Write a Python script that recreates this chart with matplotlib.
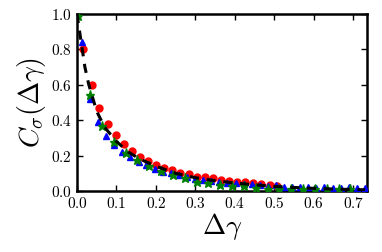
import matplotlib
matplotlib.use('Agg')
import matplotlib.pyplot as plt

plt.rcParams['font.family'] = 'serif'
plt.rcParams['font.serif'] = ['cmr10']
plt.rcParams['mathtext.fontset'] = 'cm'
plt.rcParams['axes.formatter.use_mathtext'] = True

# red circles
red_x = [0.015, 0.037, 0.057, 0.079, 0.100, 0.120, 0.140, 0.160, 0.180, 0.201,
         0.221, 0.242, 0.262, 0.283, 0.303, 0.324, 0.344, 0.365, 0.385, 0.406,
         0.426, 0.447, 0.467, 0.488, 0.508]
red_y = [0.80, 0.60, 0.47, 0.377, 0.315, 0.265, 0.227, 0.193, 0.171, 0.146,
         0.128, 0.118, 0.103, 0.096, 0.081, 0.077, 0.071, 0.062, 0.058, 0.053,
         0.050, 0.045, 0.040, 0.035, 0.030]

# blue triangles
blue_x = [0.012, 0.033, 0.053, 0.074, 0.094, 0.115, 0.135, 0.156, 0.176, 0.197,
          0.217, 0.238, 0.258, 0.279, 0.299, 0.320, 0.340, 0.361, 0.381, 0.402,
          0.422, 0.443, 0.463, 0.484, 0.504, 0.525, 0.545, 0.566, 0.586, 0.607,
          0.627, 0.648, 0.668, 0.689, 0.709, 0.730]
blue_y = [0.84, 0.52, 0.39, 0.31, 0.26, 0.22, 0.19, 0.165, 0.145, 0.125,
          0.11, 0.10, 0.088, 0.078, 0.068, 0.060, 0.055, 0.050, 0.048, 0.045,
          0.040, 0.042, 0.035, 0.030, 0.035, 0.025, 0.022, 0.025, 0.020, 0.018,
          0.020, 0.015, 0.018, 0.020, 0.015, 0.018]

# green stars
green_x = [0.003, 0.033, 0.063, 0.093, 0.123, 0.153, 0.183, 0.213, 0.243, 0.273,
           0.303, 0.333, 0.363, 0.393, 0.423, 0.453, 0.483, 0.513, 0.543, 0.573,
           0.603, 0.633, 0.663, 0.693]
green_y = [0.99, 0.54, 0.37, 0.278, 0.216, 0.174, 0.143, 0.114, 0.090, 0.071,
           0.053, 0.043, 0.034, 0.028, 0.027, 0.019, 0.013, 0.013, 0.009, 0.009,
           0.009, 0.009, 0.009, 0.009]

# black dashed fit
fit_x = [0.0, 0.01, 0.02, 0.03, 0.05, 0.07, 0.10, 0.13, 0.16, 0.20, 0.25,
         0.30, 0.35, 0.40, 0.45, 0.50, 0.55, 0.60, 0.65, 0.70, 0.73]
fit_y = [1.0, 0.85, 0.70, 0.60, 0.45, 0.36, 0.28, 0.22, 0.18, 0.14, 0.10,
         0.075, 0.058, 0.045, 0.035, 0.026, 0.020, 0.015, 0.011, 0.008, 0.007]

fig = plt.figure(figsize=(3.82, 2.52), dpi=100)
ax = fig.add_axes([77 / 382, 1 - 191 / 252, 290 / 382, 177 / 252])

ax.plot(red_x, red_y, 'o', color='red', markersize=5, zorder=2)
ax.plot(blue_x, blue_y, '^', color='blue', markersize=4.5, zorder=3)
ax.plot(green_x, green_y, '*', color='green', markersize=6.5, zorder=4)
ax.plot(fit_x, fit_y, '--', color='black', linewidth=2.2, dashes=(3, 2.5), zorder=5)

ax.set_xlim(0, 0.735)
ax.set_ylim(0, 1.0)
ax.set_xticks([0.0, 0.1, 0.2, 0.3, 0.4, 0.5, 0.6, 0.7])
ax.set_yticks([0.0, 0.2, 0.4, 0.6, 0.8, 1.0])
ax.tick_params(direction='in', top=True, right=True, labelsize=11, length=4, width=1)
for s in ax.spines.values():
    s.set_linewidth(1.8)

ax.set_xlabel(r'$\Delta\gamma$', fontsize=20, labelpad=0)
ax.set_ylabel(r'$C_\sigma(\Delta\gamma)$', fontsize=20, labelpad=2)

fig.savefig('out.png', dpi=100)
